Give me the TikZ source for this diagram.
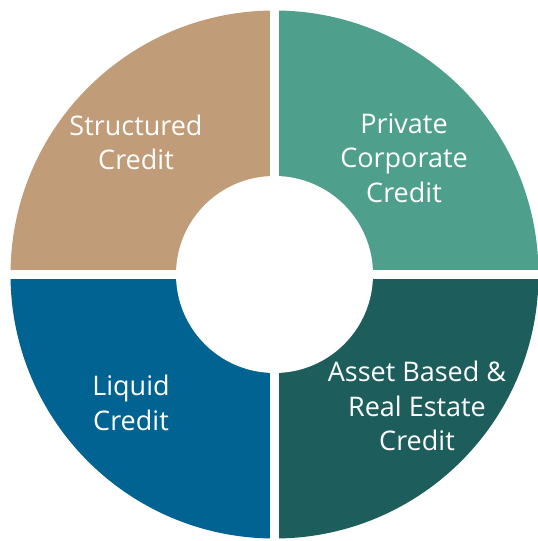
\documentclass[tikz,border=0pt]{standalone}
\usepackage{fontspec}
\setmainfont{Open Sans}
\definecolor{StructClr}{RGB}{193,156,120}
\definecolor{PrivateClr}{RGB}{78,160,140}
\definecolor{LiquidClr}{RGB}{0,99,146}
\definecolor{AssetClr}{RGB}{29,93,91}

\begin{document}
\begin{tikzpicture}[x=1pt,y=1pt,
  quarter/.style={line width=0pt},
  seglabel/.style={text=white,align=center,inner sep=0pt,
    font=\fontsize{27}{34.5}\selectfont}]
\useasboundingbox (0,0) rectangle (538,541);
\clip (0,0) rectangle (538,541);

\coordinate (O) at (274.5,266.5);

% Draw the four quarters of the ring.
\fill[StructClr] (O) -- ++(180:264) arc[start angle=180,end angle=90,radius=264] -- cycle;
\fill[PrivateClr] (O) -- ++(90:264) arc[start angle=90,end angle=0,radius=264] -- cycle;
\fill[AssetClr] (O) -- ++(0:264) arc[start angle=0,end angle=-90,radius=264] -- cycle;
\fill[LiquidClr] (O) -- ++(-90:264) arc[start angle=-90,end angle=-180,radius=264] -- cycle;

% Cut the gaps and the hole.
\draw[white,line width=9pt] (O) ++(-280,0) -- ++(560,0);
\draw[white,line width=9pt] (O) ++(0,-280) -- ++(0,560);
\fill[white] (O) circle[radius=98.5];

% Labels.
\node[seglabel] (struct) at (136,398.5) {Structured\\Credit};
\node[seglabel] (private) at (404,383) {Private\\Corporate\\Credit};
\node[seglabel] (liquid) at (131,138) {Liquid\\Credit};
\node[seglabel] (asset) at (417,135) {Asset Based \&\\Real Estate\\Credit};

\end{tikzpicture}
\end{document}
